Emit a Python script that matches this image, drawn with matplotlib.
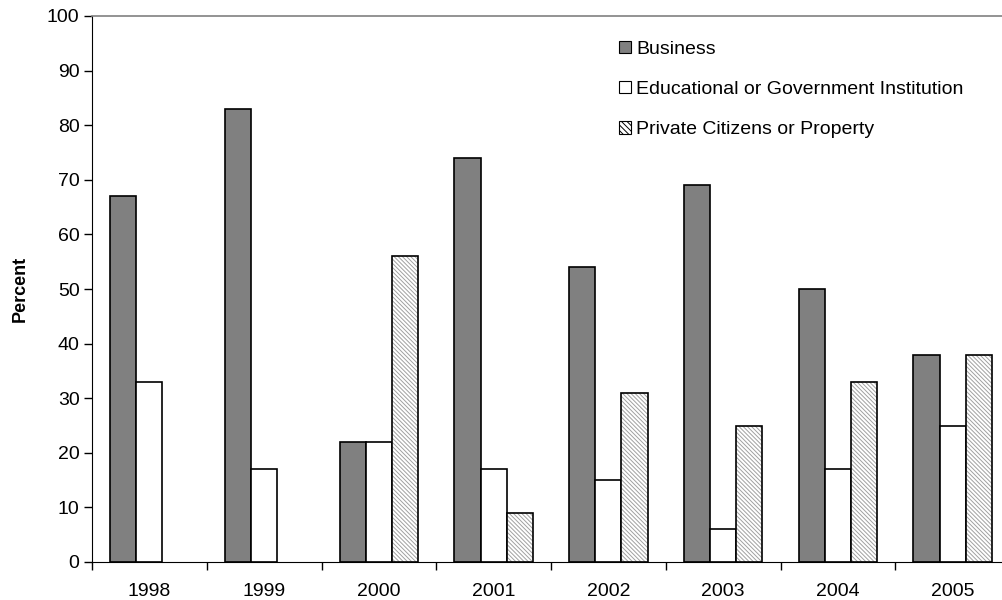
import numpy as np
import matplotlib.pyplot as plt
from matplotlib.patches import Patch

plt.rcParams['font.family'] = ['Liberation Sans', 'DejaVu Sans']
plt.rcParams['hatch.linewidth'] = 0.7

years = ['1998', '1999', '2000', '2001', '2002', '2003', '2004', '2005']
business = [67, 83, 22, 74, 54, 69, 50, 38]
education = [33, 17, 22, 17, 15, 6, 17, 25]
private = [0, 0, 56, 9, 31, 25, 33, 38]

fig = plt.figure(figsize=(10.02, 6.0), dpi=100)
# axes goes a bit past the right edge, like the source picture
ax = fig.add_axes([92/1002, 38/600, 918/1002, 546/600])

x = np.arange(len(years))
w = 0.228

ax.bar(x - w, business, w, color='#808080', edgecolor='black', linewidth=1.2)
ax.bar(x, education, w, color='white', edgecolor='black', linewidth=1.2)
priv = [v if v > 0 else np.nan for v in private]
ax.bar(x + w, priv, w, color='white', edgecolor='#a0a0a0', hatch='\\\\\\\\\\\\\\\\', linewidth=0)
ax.bar(x + w, priv, w, color='none', edgecolor='black', linewidth=1.2)

ax.set_xlim(-0.5, len(years) - 0.5)
ax.set_ylim(0, 100)
ax.set_yticks(range(0, 101, 10))
ax.set_xticks(np.arange(len(years) + 1) - 0.5, minor=False)
ax.set_xticklabels([''] * (len(years) + 1))
ax.set_xticks(x, minor=True)
ax.set_xticklabels(years, minor=True)
ax.tick_params(axis='x', which='major', direction='out', length=6, width=1)
ax.tick_params(axis='x', which='minor', length=0, pad=15, labelsize=14)
ax.tick_params(axis='y', direction='out', length=6, width=1, labelsize=14, pad=3)

ax.spines['right'].set_visible(False)
ax.spines['top'].set_color('#808080')
ax.spines['top'].set_linewidth(1.2)

ax.set_ylabel('Percent', fontsize=13, fontweight='bold', labelpad=13)

handles = [Patch(facecolor='#808080', edgecolor='black', linewidth=0.8),
           Patch(facecolor='white', edgecolor='black', linewidth=0.8),
           Patch(facecolor='white', edgecolor='#909090', hatch='\\\\\\\\\\\\', linewidth=0.8)]
labels = ['Business', 'Educational or Government Institution', 'Private Citizens or Property']
leg = ax.legend(handles, labels, loc='upper left', bbox_to_anchor=(0.555, 0.987), frameon=False,
                fontsize=14, handlelength=0.6, handleheight=0.6, handletextpad=0.3, labelspacing=1.2)
for p in leg.get_patches():
    p.set_edgecolor('black')

plt.savefig('out.png', dpi=100)
